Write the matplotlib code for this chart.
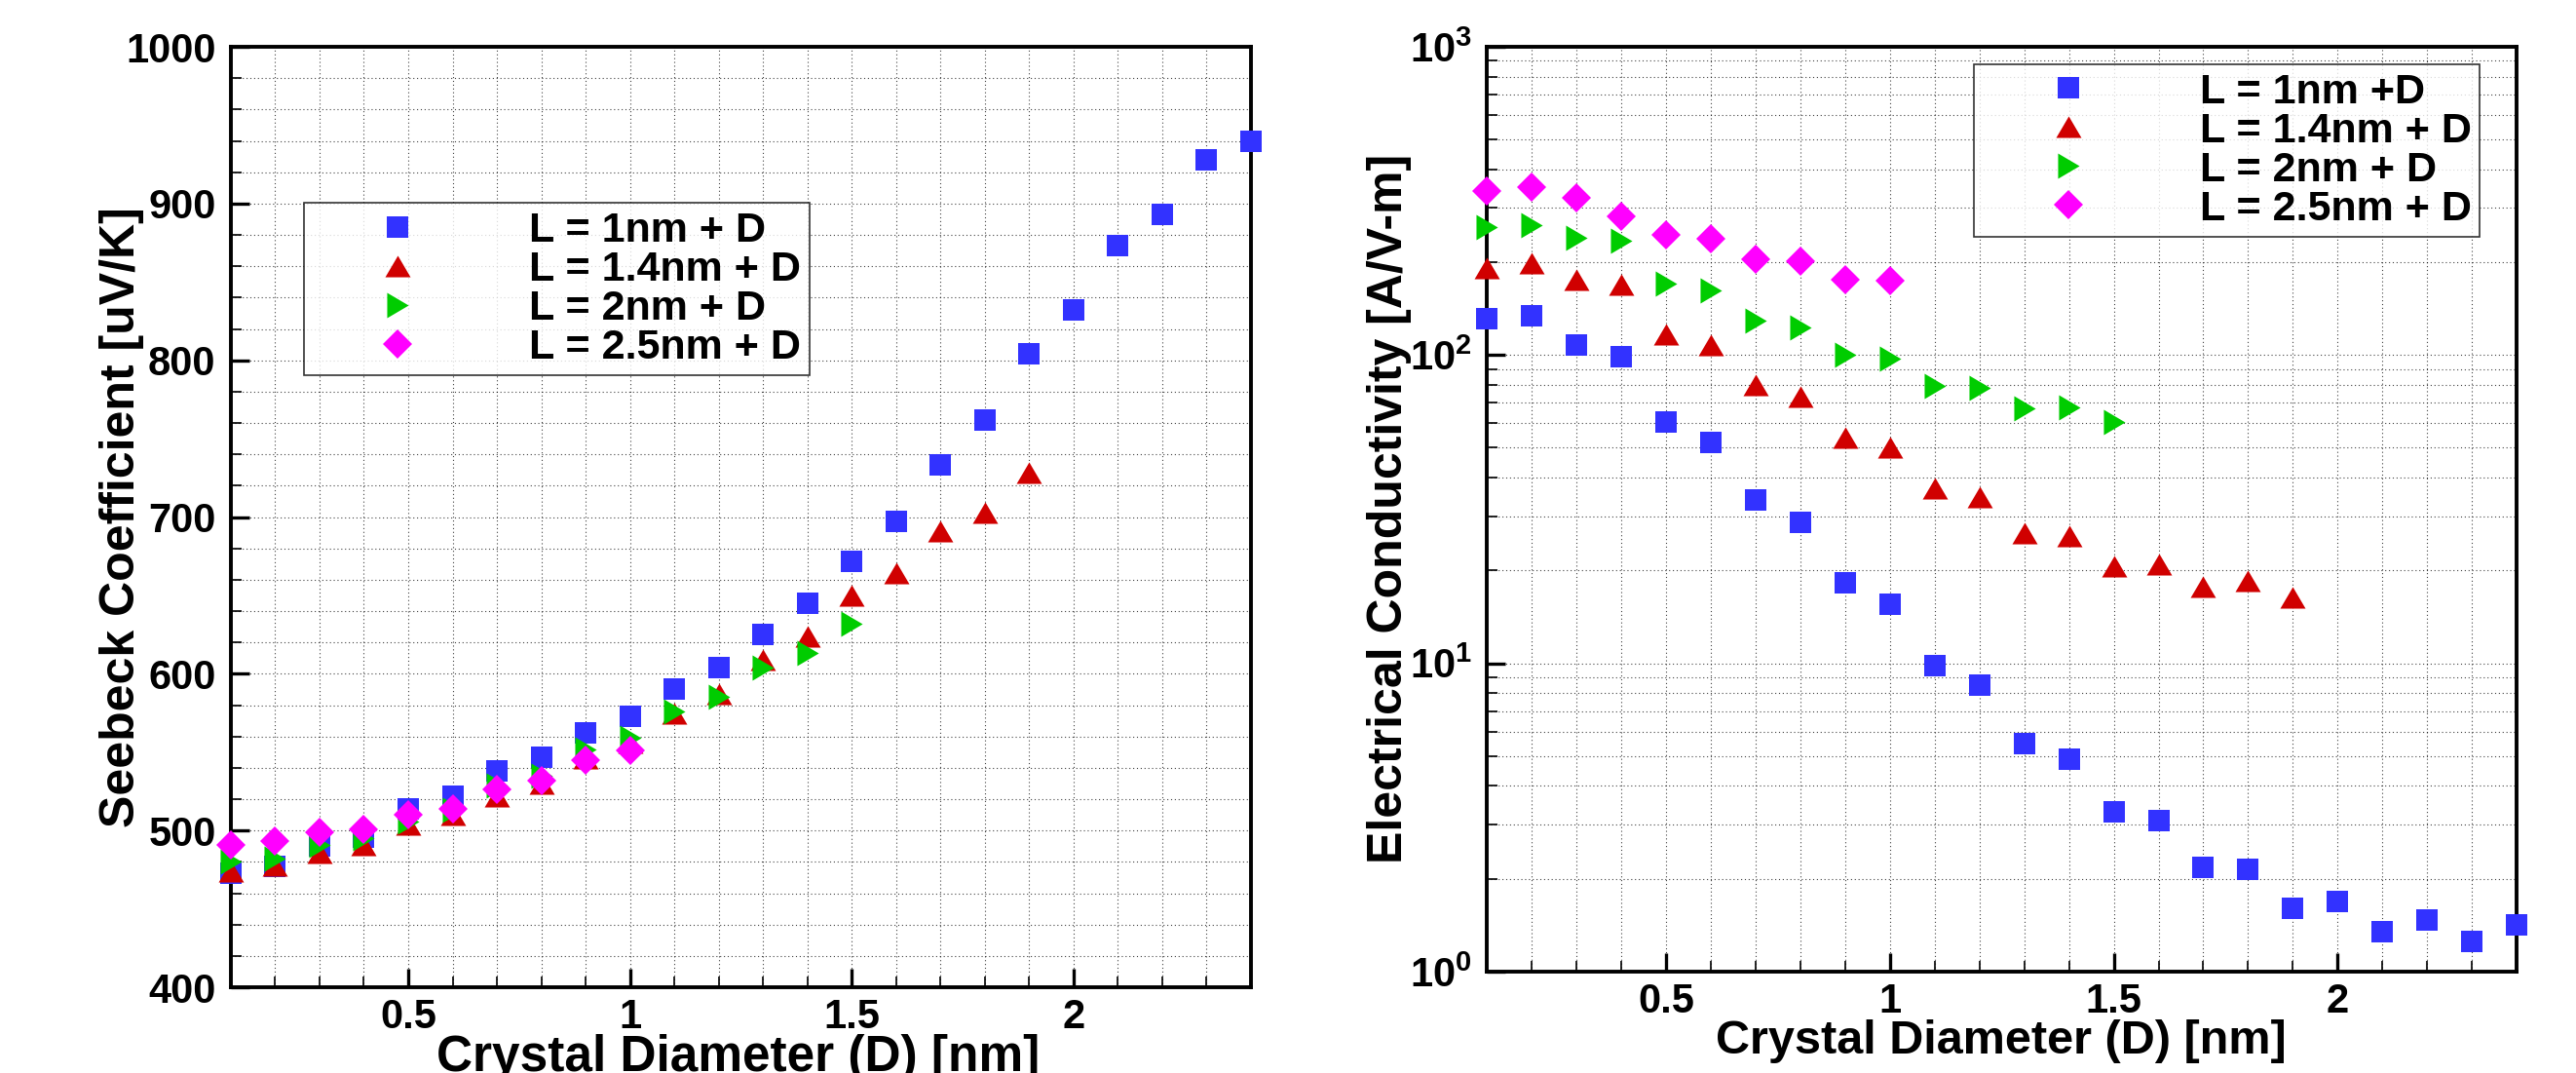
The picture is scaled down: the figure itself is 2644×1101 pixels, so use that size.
import matplotlib
matplotlib.use("Agg")
import matplotlib.pyplot as plt
from matplotlib.ticker import MultipleLocator, FixedLocator, FixedFormatter, LogLocator, NullFormatter

plt.rcParams['font.family'] = ['Liberation Sans', 'DejaVu Sans']
plt.rcParams['font.weight'] = 'bold'
plt.rcParams['mathtext.fontset'] = 'custom'
plt.rcParams['mathtext.rm'] = 'Liberation Sans:bold'
plt.rcParams['mathtext.it'] = 'Liberation Sans:bold'
plt.rcParams['mathtext.bf'] = 'Liberation Sans:bold'

# crystal diameter D [nm]
diameter = [0.1, 0.2, 0.3, 0.4, 0.5, 0.6, 0.7, 0.8, 0.9, 1.0, 1.1, 1.2,
            1.3, 1.4, 1.5, 1.6, 1.7, 1.8, 1.9, 2.0, 2.1, 2.2, 2.3, 2.4]

# Seebeck coefficient [uV/K]
seebeck_1nm = [473, 477, 490, 496, 514, 522, 538, 547, 562, 573, 590, 604,
               625, 645, 672, 697, 733, 762, 804, 832, 873, 893, 928, 940]
seebeck_1p4nm = [474, 478, 486, 491, 504, 510, 522, 530, 546, 556, 575, 587,
                 609, 624, 650, 664, 691, 703, 728]
seebeck_2nm = [480, 482, 491, 495, 506, 513, 529, 535, 552, 559, 576, 585,
               604, 613, 632]
seebeck_2p5nm = [491, 493, 499, 501, 510, 514, 526, 532, 545, 551]

# electrical conductivity [A/V-m]
cond_1nm = [131, 134, 108, 98.5, 60.5, 52.2, 33.8, 28.7, 18.2, 15.5, 9.8, 8.5,
            5.5, 4.9, 3.3, 3.08, 2.18, 2.14, 1.61, 1.69, 1.35, 1.47, 1.25, 1.42]
cond_1p4nm = [192, 198, 175, 169, 117, 108, 80, 73, 54, 50, 37, 34.7,
              26.4, 25.8, 20.7, 20.9, 17.7, 18.5, 16.3]
cond_2nm = [259, 264, 240, 234, 171, 162, 129, 123, 100, 97, 79.4, 78.2,
            67.1, 67.8, 60.6]
cond_2p5nm = [341, 350, 324, 282, 245, 239, 205, 202, 175, 174]

labels_left = ['L = 1nm + D', 'L = 1.4nm + D', 'L = 2nm + D', 'L = 2.5nm + D']
labels_right = ['L = 1nm +D', 'L = 1.4nm + D', 'L = 2nm + D', 'L = 2.5nm + D']

colors = ['#3232ff', '#d00000', '#00cc00', '#ff00ff']
tri_up = [(-1, -0.85), (1, -0.85), (0, 0.85)]
tri_right = [(-0.85, -1), (-0.85, 1), (0.85, 0)]
markers = ['s', tri_up, tri_right, 'D']
msizes = [15.5, 18.7, 18.7, 14.8]


def style_axes(ax):
    for sp in ax.spines.values():
        sp.set_linewidth(2.8)
        sp.set_zorder(2.5)
    ax.tick_params(which='both', direction='in', top=False, right=False,
                   labelsize=30)
    ax.tick_params(which='major', length=14, width=2.4)
    ax.tick_params(which='minor', length=8, width=1.2)
    ax.tick_params(axis='x', which='major', pad=8)
    ax.tick_params(axis='y', which='major', pad=11)
    ax.grid(True, which='both', color='k', linewidth=0.8,
            linestyle=(0, (1, 2.5)), alpha=0.75)
    ax.set_axisbelow(True)
    ax.set_xlim(0.1, 2.4)
    ax.xaxis.set_major_locator(FixedLocator([0.5, 1.0, 1.5, 2.0]))
    ax.xaxis.set_major_formatter(FixedFormatter(['0.5', '1', '1.5', '2']))
    ax.xaxis.set_minor_locator(MultipleLocator(0.1))


def add_series(ax, series, labels):
    handles = []
    for vals, c, m, ms, lab in zip(series, colors, markers, msizes, labels):
        h, = ax.plot(diameter[:len(vals)], vals, linestyle='none', marker=m,
                     markersize=ms, markerfacecolor=c, markeredgewidth=0,
                     color=c, clip_on=False, zorder=3, label=lab)
        handles.append(h)
    return handles


def add_legend(ax, x, y):
    leg = ax.legend(loc='upper left', bbox_to_anchor=(x, y),
                    borderaxespad=0, fontsize=31, frameon=True,
                    fancybox=False, edgecolor='k', borderpad=0.2,
                    handlelength=4.1, handletextpad=1.08, labelspacing=0.0,
                    numpoints=1)
    leg.get_frame().set_linewidth(1.2)
    leg.set_zorder(4)
    return leg


fig = plt.figure(figsize=(26.44, 11.01), dpi=100)

# Seebeck coefficient panel
ax1 = fig.add_axes([0.0896, 0.0799, 0.396, 0.8765])
style_axes(ax1)
ax1.set_ylim(400, 1000)
ax1.yaxis.set_major_locator(MultipleLocator(100))
ax1.yaxis.set_minor_locator(MultipleLocator(20))
add_series(ax1, [seebeck_1nm, seebeck_1p4nm, seebeck_2nm, seebeck_2p5nm], labels_left)
add_legend(ax1, 0.0713, 0.834)
ax1.set_ylabel('Seebeck Coefficient [uV/K]', fontsize=36, fontweight='bold')
ax1.yaxis.set_label_coords(-0.085, 0.5)
ax1.set_xlabel('Crystal Diameter (D) [nm]', fontsize=37, fontweight='bold')
ax1.xaxis.set_label_coords(0.497, -0.05)

# electrical conductivity panel
ax2 = fig.add_axes([0.5772, 0.0945, 0.3998, 0.862])
style_axes(ax2)
ax2.set_yscale('log')
ax2.set_ylim(1, 1000)
ax2.yaxis.set_major_locator(FixedLocator([1, 10, 100, 1000]))
ax2.yaxis.set_major_formatter(FixedFormatter([r'$10^{0}$', r'$10^{1}$',
                                              r'$10^{2}$', r'$10^{3}$']))
ax2.yaxis.set_minor_locator(LogLocator(base=10, subs=range(2, 10)))
ax2.yaxis.set_minor_formatter(NullFormatter())
add_series(ax2, [cond_1nm, cond_1p4nm, cond_2nm, cond_2p5nm], labels_right)
add_legend(ax2, 0.473, 0.981)
ax2.set_ylabel('Electrical Conductivity [A/V-m]', fontsize=36, fontweight='bold')
ax2.yaxis.set_label_coords(-0.073, 0.5)
ax2.set_xlabel('Crystal Diameter (D) [nm]', fontsize=35, fontweight='bold')
ax2.xaxis.set_label_coords(0.4995, -0.0516)

fig.savefig('out.png', dpi=100)
